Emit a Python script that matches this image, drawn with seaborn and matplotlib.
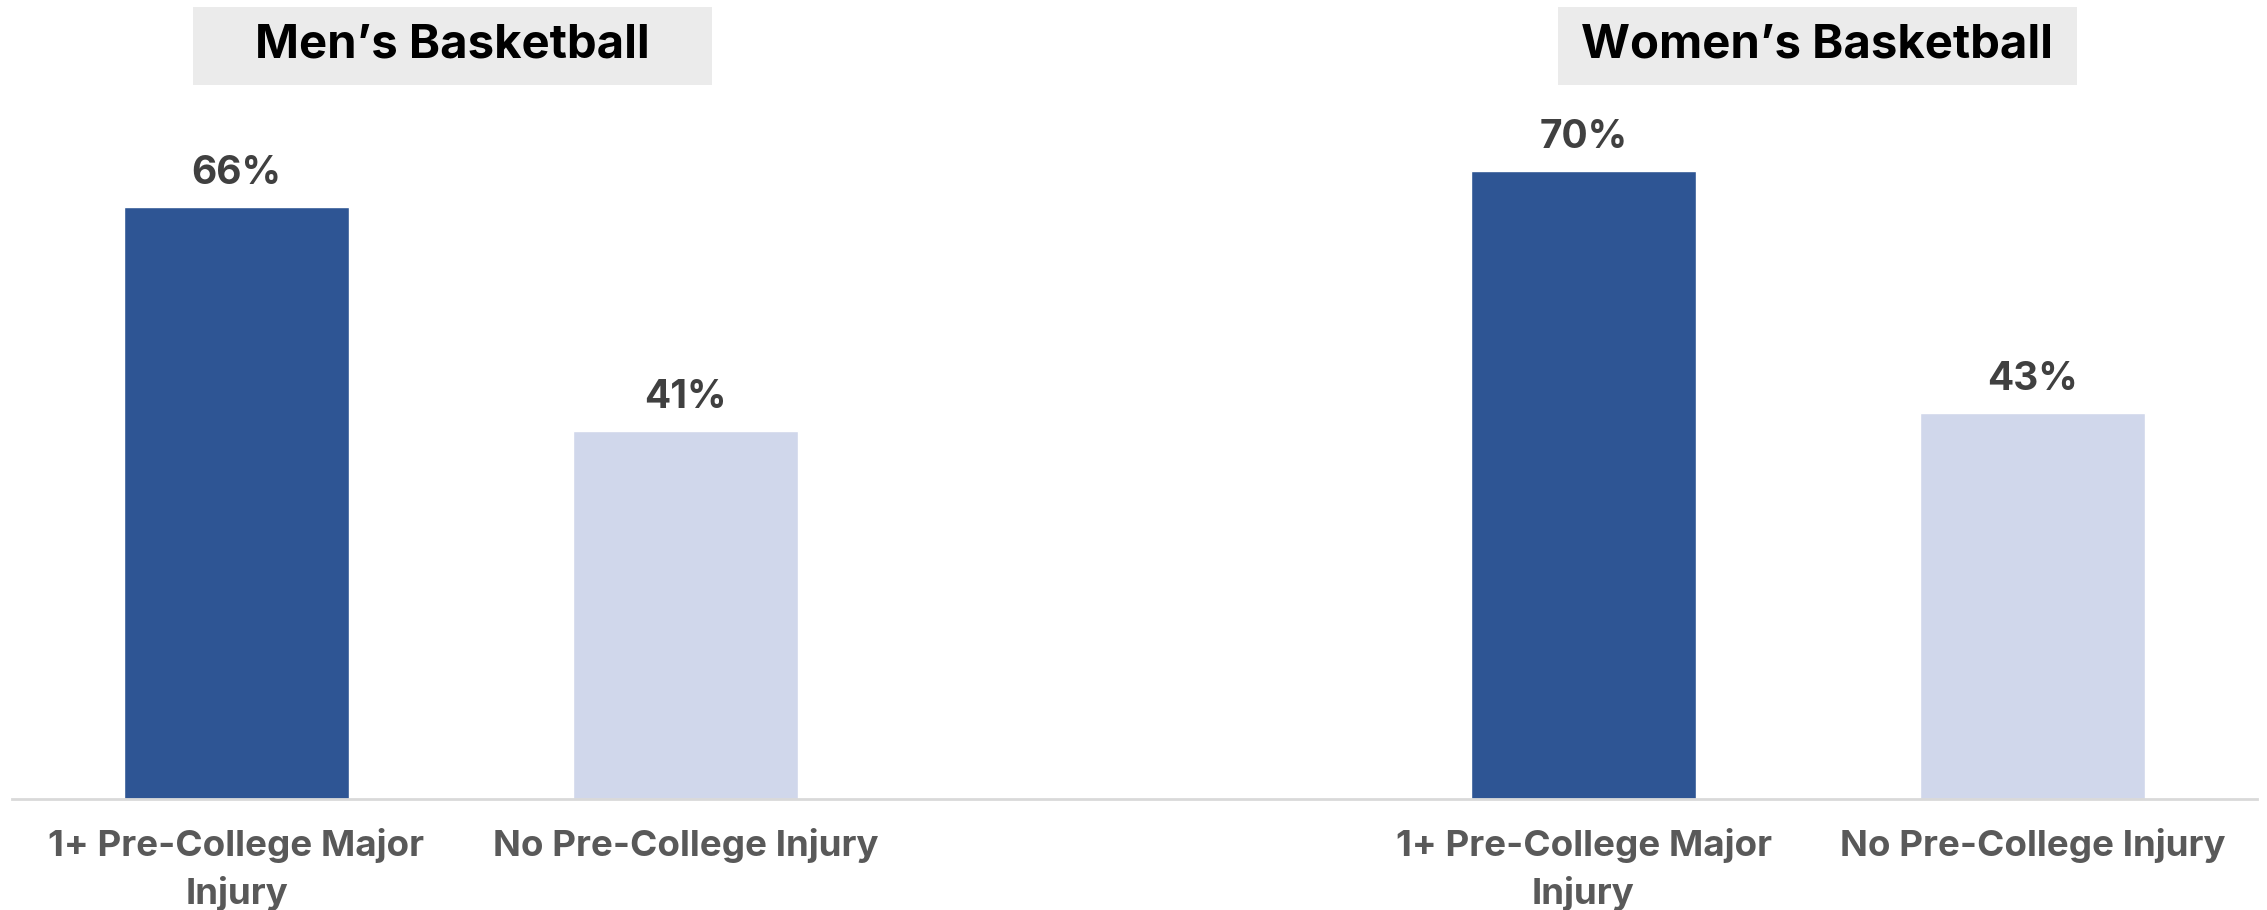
import matplotlib
matplotlib.use("Agg")
import matplotlib.pyplot as plt
from matplotlib.patches import Rectangle
import seaborn as sns
import pandas as pd

# Chart data
groups = ["Men\u2019s Basketball", "Women\u2019s Basketball"]
categories = ["1+ Pre-College Major\nInjury", "No Pre-College Injury"]
men_values = [66, 41]
women_values = [70, 43]

colors = {categories[0]: "#2E5594", categories[1]: "#D0D7EB"}

rows = []
for g, vals in enumerate([men_values, women_values]):
    for c, v in enumerate(vals):
        rows.append({"group": groups[g], "category": categories[c],
                     "slot": g * 3 + c, "value": v})
df = pd.DataFrame(rows)

sns.set_theme(style="white")
plt.rcParams["font.family"] = ["Inter", "DejaVu Sans"]

W, H = 2267, 910
fig = plt.figure(figsize=(W / 100, H / 100), dpi=100)
ax = fig.add_axes([12 / W, 111 / H, 2245 / W, 799 / H])

sns.barplot(data=df, x="slot", y="value", hue="category", palette=colors,
            native_scale=True, width=0.5, dodge=False, legend=False, ax=ax,
            saturation=1)

ax.set_xlim(-0.5, 4.5)
ax.set_ylim(0, 89.06)
for s in ["top", "right", "left"]:
    ax.spines[s].set_visible(False)
ax.spines["bottom"].set_color("#D9D9D9")
ax.spines["bottom"].set_linewidth(2)
ax.set_yticks([])
ax.set_xlabel("")
ax.set_ylabel("")

ax.set_xticks(df["slot"], df["category"])
ax.tick_params(axis="x", length=0, pad=21)
for lbl in ax.get_xticklabels():
    lbl.set_fontsize(26.5)
    lbl.set_fontweight("bold")
    lbl.set_color("#595959")
    lbl.set_linespacing(1.45)

# value labels above bars
for _, r in df.iterrows():
    ax.annotate(f"{r['value']}%", xy=(r["slot"], r["value"]),
                xytext=(0, 24), textcoords="offset points",
                ha="center", va="center", fontsize=28, fontweight="bold",
                color="#404040")

# group headers in shaded boxes (centres in pixels)
box_centres = [452, 1817]
box_w, box_top, box_bot = 519, 7, 85
for name, cx in zip(groups, box_centres):
    fig.patches.append(Rectangle(((cx - box_w / 2) / W, 1 - box_bot / H),
                                 box_w / W, (box_bot - box_top) / H,
                                 transform=fig.transFigure,
                                 facecolor="#EBEBEB", edgecolor="none"))
    fig.text(cx / W, 1 - 46 / H, name, ha="center", va="center",
             fontsize=34, fontweight="bold", color="black")

fig.savefig("out.png", dpi=100, facecolor="white")
